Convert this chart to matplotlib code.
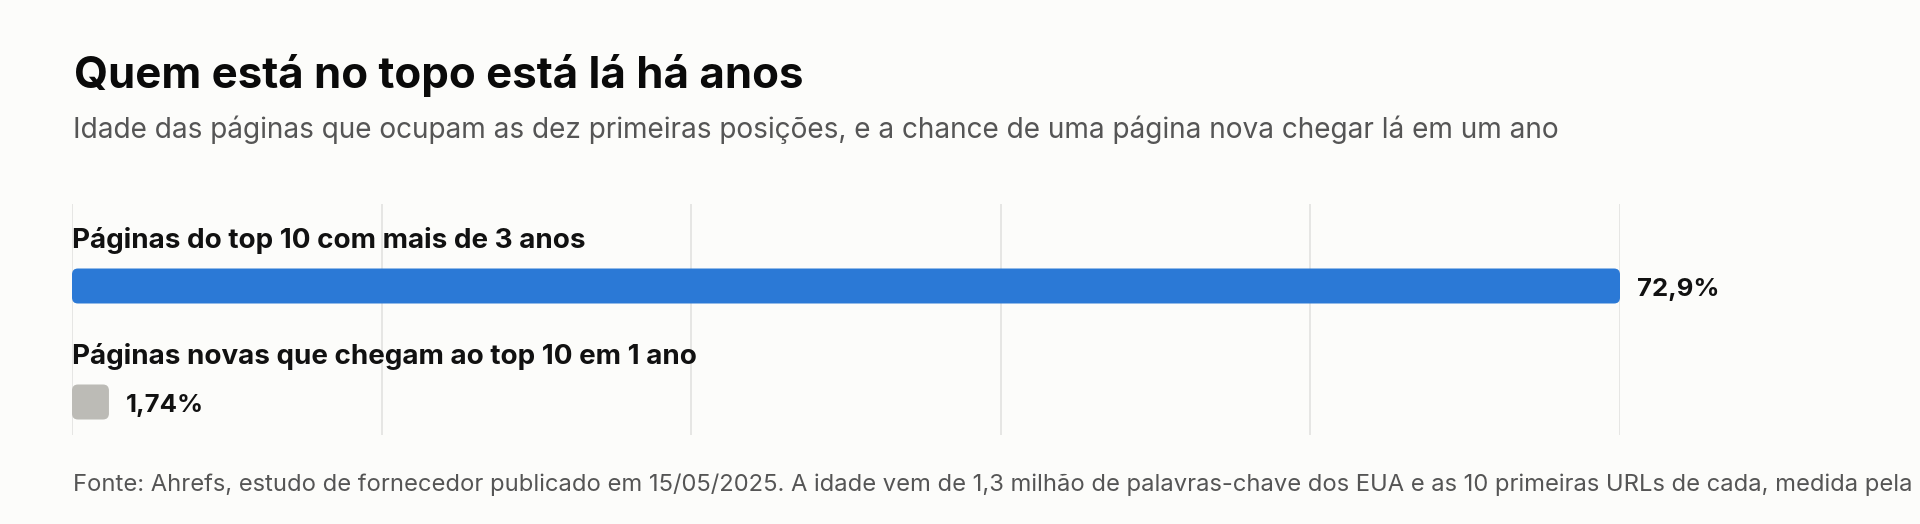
import numpy as np
import matplotlib
matplotlib.use("Agg")
import matplotlib.pyplot as plt
from matplotlib.patches import FancyBboxPatch

plt.rcParams["font.family"] = ["Inter", "DejaVu Sans"]

title = "Quem está no topo está lá há anos"
subtitle = "Idade das páginas que ocupam as dez primeiras posições, e a chance de uma página nova chegar lá em um ano"
footer = ("Fonte: Ahrefs, estudo de fornecedor publicado em 15/05/2025. A idade vem de 1,3 milhão de "
          "palavras-chave dos EUA e as 10 primeiras URLs de cada, medida pela")

categories = ["Páginas do top 10 com mais de 3 anos",
              "Páginas novas que chegam ao top 10 em 1 ano"]
values = [72.9, 1.74]
value_labels = ["72,9%", "1,74%"]
bar_colors = ["#2B79D6", "#BCBBB6"]

bg = "#FCFCFA"
W, H = 1920, 524
fig = plt.figure(figsize=(W / 100, H / 100), dpi=100, facecolor=bg)

# axes box in pixels (left, top, right, bottom)
ax_l, ax_t, ax_r, ax_b = 72, 204, 1620, 435
ax = fig.add_axes([ax_l / W, 1 - ax_b / H, (ax_r - ax_l) / W, (ax_b - ax_t) / H])
ax.set_facecolor("none")

row_px = 116
first_px = 82
y_top = -first_px / row_px
y_bot = y_top + (ax_b - ax_t) / row_px
xmax = max(values)
ax.set_xlim(0, xmax)
ax.set_ylim(y_bot, y_top)

for s in ax.spines.values():
    s.set_visible(False)
ax.set_xticks(np.linspace(0, xmax, 6))
ax.set_yticks([])
ax.tick_params(axis="x", length=0, labelbottom=False)
ax.grid(axis="x", color="#E4E4E2", linewidth=1.3)
ax.set_axisbelow(True)

px_x = xmax / (ax_r - ax_l)   # data units per pixel
px_y = 1 / row_px
bar_h = 35 * px_y
rad = 6 * px_x

for i, (cat, v, lab, c) in enumerate(zip(categories, values, value_labels, bar_colors)):
    box = FancyBboxPatch((0, i - bar_h / 2), v, bar_h,
                         boxstyle=f"round,pad=0,rounding_size={rad}",
                         mutation_aspect=px_y / px_x,
                         facecolor=c, edgecolor="none", zorder=3)
    ax.add_patch(box)
    ax.annotate(cat, (0, i), xytext=(0, 27.2), textcoords="offset points",
                ha="left", va="baseline", fontsize=20, fontweight="bold",
                color="#111111", annotation_clip=False)
    ax.annotate(lab, (v, i), xytext=(12, -7.2), textcoords="offset points",
                ha="left", va="baseline", fontsize=18.5, fontweight="bold",
                color="#111111", annotation_clip=False)

fig.text(74 / W, 1 - 88 / H, title, ha="left", va="baseline",
         fontsize=31.5, fontweight="bold", color="#0A0A0A")
fig.text(73 / W, 1 - 138 / H, subtitle, ha="left", va="baseline",
         fontsize=20.15, color="#555555")
fig.text(73 / W, 1 - 491.5 / H, footer, ha="left", va="baseline",
         fontsize=17.1, color="#555555")

fig.savefig("out.png", dpi=100, facecolor=bg)
